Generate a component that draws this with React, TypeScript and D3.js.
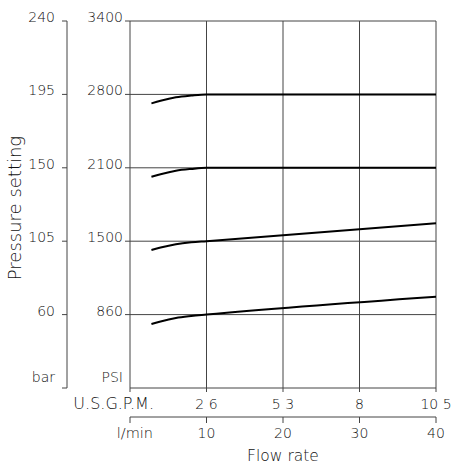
import React, { useEffect, useRef } from "react";
import * as d3 from "d3";

// ---- data ----
const barTicks = [240, 195, 150, 105, 60];
const psiLabels = ["3400", "2800", "2100", "1500", "860"];
const lpmTicks = [10, 20, 30, 40];
const usgpmLabels = ["2 6", "5 3", "8", "10 5"];

// curves: [l/min, bar]
const curve195: [number, number][] = [[2.8, 189.5], [4, 191.1], [6, 193.2], [8, 194.3], [10, 195], [40, 195]];
const curve150: [number, number][] = [[2.8, 144.5], [4, 146.1], [6, 148.2], [8, 149.3], [10, 150], [40, 150]];
const curve105: [number, number][] = [[2.8, 99.6], [4, 101.1], [6, 103.1], [8, 104.3], [10, 105], [40, 116]];
const curve60: [number, number][] = [[2.8, 54.2], [4, 55.8], [6, 57.9], [8, 59.1], [10, 60], [40, 71]];
const curves = [curve195, curve150, curve105, curve60];

const W = 451;
const H = 466;
const FONT = "'DejaVu Sans', sans-serif";

export default function App() {
  const ref = useRef<SVGSVGElement | null>(null);

  useEffect(() => {
    const svg = d3.select(ref.current);
    svg.selectAll("*").remove();

    const x = d3.scaleLinear().domain([0, 40]).range([130, 436]);
    const y = d3.scaleLinear().domain([15, 240]).range([388, 21]);
    const axisColor = "#444";

    const g = svg.append("g").attr("font-family", FONT).attr("font-weight", 200).attr("fill", "#111");

    // bar axis
    g.append("line").attr("x1", 67).attr("x2", 67).attr("y1", y(240)).attr("y2", y(15))
      .attr("stroke", axisColor).attr("stroke-width", 1);
    [...barTicks, 15].forEach((b) => {
      g.append("line").attr("x1", 62).attr("x2", 67).attr("y1", y(b)).attr("y2", y(b))
        .attr("stroke", axisColor).attr("stroke-width", 1);
    });
    barTicks.forEach((b) => {
      g.append("text").attr("x", 55).attr("y", y(b) + 1).attr("text-anchor", "end")
        .attr("font-size", 14).text(String(b));
    });
    g.append("text").attr("x", 55).attr("y", 382).attr("text-anchor", "end").attr("font-size", 14).text("bar");

    // PSI axis labels and horizontal lines
    barTicks.forEach((b, i) => {
      g.append("text").attr("x", 123).attr("y", y(b) + 1).attr("text-anchor", "end")
        .attr("font-size", 14).text(psiLabels[i]);
      g.append("line").attr("x1", 125).attr("x2", x(40)).attr("y1", y(b)).attr("y2", y(b))
        .attr("stroke", axisColor).attr("stroke-width", 1);
    });
    g.append("text").attr("x", 123).attr("y", 382).attr("text-anchor", "end").attr("font-size", 14).text("PSI");

    // vertical grid lines
    [0, ...lpmTicks].forEach((v) => {
      g.append("line").attr("x1", x(v)).attr("x2", x(v)).attr("y1", y(240)).attr("y2", y(15) + 4)
        .attr("stroke", axisColor).attr("stroke-width", 1);
    });
    // bottom line
    g.append("line").attr("x1", x(0)).attr("x2", x(40)).attr("y1", y(15)).attr("y2", y(15))
      .attr("stroke", axisColor).attr("stroke-width", 1);

    // USGPM labels
    g.append("text").attr("x", 154).attr("y", 409).attr("text-anchor", "end").attr("font-size", 16)
      .text("U.S.G.P.M.");
    lpmTicks.forEach((v, i) => {
      g.append("text").attr("x", x(v)).attr("y", 409).attr("text-anchor", "middle")
        .attr("font-size", 14).text(usgpmLabels[i]);
    });

    // l/min axis
    const ly = 417;
    g.append("line").attr("x1", x(0)).attr("x2", x(40)).attr("y1", ly).attr("y2", ly)
      .attr("stroke", axisColor).attr("stroke-width", 1);
    [0, ...lpmTicks].forEach((v) => {
      g.append("line").attr("x1", x(v)).attr("x2", x(v)).attr("y1", ly).attr("y2", ly + 6)
        .attr("stroke", axisColor).attr("stroke-width", 1);
    });
    g.append("text").attr("x", 153).attr("y", 438).attr("text-anchor", "end").attr("font-size", 14.5).text("l/min");
    lpmTicks.forEach((v) => {
      g.append("text").attr("x", x(v)).attr("y", 438).attr("text-anchor", "middle")
        .attr("font-size", 14).text(String(v));
    });

    // titles
    g.append("text").attr("x", 283).attr("y", 461).attr("text-anchor", "middle").attr("font-size", 15.5).text("Flow rate");
    g.append("text").attr("transform", "translate(21,208) rotate(-90)").attr("text-anchor", "middle")
      .attr("font-size", 18).text("Pressure setting");

    // curves
    const line = d3.line<[number, number]>().x((d) => x(d[0])).y((d) => y(d[1])).curve(d3.curveMonotoneX);
    curves.forEach((c) => {
      svg.append("path").attr("d", line(c) as string).attr("fill", "none")
        .attr("stroke", "#000").attr("stroke-width", 2);
    });
  }, []);

  return (
    <svg ref={ref} width={W} height={H} style={{ position: "absolute", left: 0, top: 0, background: "#fff" }} />
  );
}
